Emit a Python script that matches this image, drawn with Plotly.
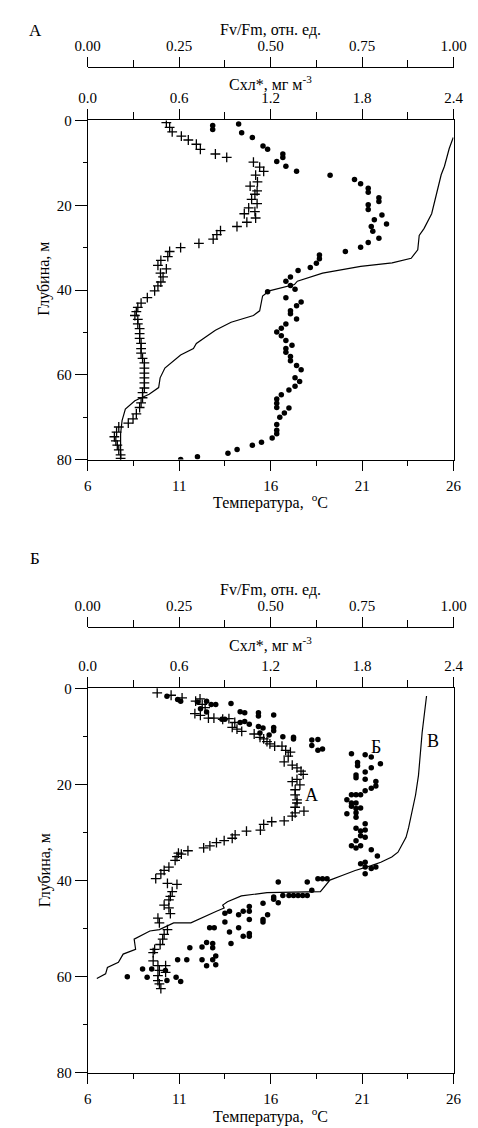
import plotly.graph_objects as go

# ---------------- Panel A data ----------------
# crosses: Fv/Fm (rel. units) vs depth (m)
depth_fv_A = [0.5, 1.6, 2.7, 3.7, 4.6, 5.6, 6.8, 7.9, 8.7, 9.8, 11.0, 12.0, 12.9, 14.5, 15.5, 16.6, 17.4, 18.6, 19.6,
              20.6, 21.5, 22.0, 23.0, 24.0, 25.0, 26.0, 26.9, 28.0, 29.0, 30.0, 30.9, 32.1, 33.0, 34.2, 35.0, 36.0,
              36.9, 38.1, 39.0, 40.2, 41.8, 43.1, 44.1, 45.1, 46.0, 46.9, 48.0, 49.1, 50.3, 51.4, 52.6, 53.8, 54.9,
              56.1, 57.2, 58.4, 59.6, 60.7, 61.9, 63.1, 64.2, 65.4, 66.6, 67.7, 69.2, 70.4, 71.4, 72.3, 73.5, 74.6,
              75.6, 76.6, 77.7, 78.9, 79.7]
fvfm_A = [0.215, 0.224, 0.231, 0.256, 0.275, 0.297, 0.308, 0.349, 0.380, 0.453, 0.470, 0.481, 0.459, 0.464, 0.444,
          0.463, 0.457, 0.448, 0.463, 0.440, 0.457, 0.428, 0.459, 0.435, 0.408, 0.363, 0.353, 0.343, 0.304, 0.254,
          0.224, 0.219, 0.200, 0.192, 0.215, 0.199, 0.206, 0.200, 0.192, 0.183, 0.163, 0.146, 0.137, 0.133, 0.129,
          0.137, 0.137, 0.142, 0.142, 0.142, 0.146, 0.146, 0.146, 0.150, 0.155, 0.155, 0.155, 0.155, 0.155, 0.155,
          0.150, 0.150, 0.146, 0.142, 0.133, 0.124, 0.111, 0.085, 0.079, 0.073, 0.077, 0.081, 0.085, 0.090, 0.090]

# dots: chlorophyll (mg m-3) vs depth (m)
depth_chl_A = [1.2, 2.1, 0.8, 2.9, 4.0, 6.0, 6.8, 7.9, 8.7, 9.7, 10.8, 12.0, 12.9, 13.9, 14.9, 16.0, 16.9, 18.2, 19.1,
               19.9, 21.0, 22.3, 23.4, 24.4, 25.0, 26.1, 27.8, 28.8, 29.9, 30.9, 31.7, 32.6, 33.7, 34.7, 35.4, 36.9,
               37.9, 38.9, 39.8, 40.4, 41.8, 42.8, 43.7, 44.9, 45.6, 46.8, 48.0, 49.0, 49.9, 50.8, 51.9, 53.0, 53.8,
               54.7, 55.7, 56.7, 57.8, 58.8, 60.7, 61.6, 62.7, 63.6, 64.7, 65.7, 66.7, 67.7, 67.8, 69.0, 70.0, 71.7,
               73.1, 73.9, 74.9, 75.9, 76.6, 77.6, 78.5, 79.3, 80.0]
chl_A = [0.82, 0.82, 0.99, 1.01, 1.08, 1.15, 1.18, 1.28, 1.28, 1.24, 1.30, 1.37, 1.59, 1.75, 1.79, 1.84, 1.84, 1.91,
         1.91, 1.84, 1.84, 1.93, 1.88, 1.96, 1.86, 1.87, 1.91, 1.84, 1.79, 1.69, 1.52, 1.52, 1.50, 1.46, 1.38, 1.33,
         1.30, 1.33, 1.36, 1.18, 1.30, 1.40, 1.37, 1.33, 1.33, 1.37, 1.30, 1.27, 1.24, 1.27, 1.30, 1.34, 1.30, 1.30,
         1.33, 1.33, 1.37, 1.40, 1.36, 1.39, 1.36, 1.32, 1.27, 1.24, 1.24, 1.24, 1.32, 1.29, 1.26, 1.24, 1.24, 1.24,
         1.21, 1.14, 1.08, 0.98, 0.92, 0.72, 0.61]

# line: temperature (°C) vs depth (m)
depth_t_A = [4.0, 6.6, 10.8, 12.8, 17.4, 22.0, 25.5, 27.1, 30.5, 32.5, 33.6, 34.4, 36.0, 37.9, 38.7, 40.2, 41.4, 44.9,
             46.0, 47.6, 49.5, 52.6, 53.8, 55.3, 58.4, 60.7, 63.0, 64.6, 66.1, 68.1, 70.8, 73.9, 80.0]
temp_A = [25.98, 25.76, 25.5, 25.32, 25.06, 24.8, 24.38, 24.12, 24.04, 23.68, 22.64, 20.92, 18.84, 17.46, 17.3, 15.92,
          15.56, 15.4, 15.06, 13.84, 12.98, 11.94, 11.78, 11.08, 10.22, 9.96, 9.88, 9.36, 8.58, 8.06, 7.88, 7.8, 7.8]

# ---------------- Panel Б data ----------------
depth_fv_B = [0.96, 1.44, 1.98, 2.67, 2.19, 3.35, 4.03, 5.27, 5.61, 6.22, 6.22, 6.43, 6.29, 7.11, 8.14, 8.48, 8.96,
              9.5, 10.19, 10.53, 11.08, 11.56, 12.03, 12.03, 12.9, 13.27, 14.09, 15.32, 16.0, 16.55, 17.23, 17.91,
              18.94, 19.42, 20.1, 21.1, 22.15, 23.2, 23.86, 24.75, 25.57, 25.9, 26.6, 27.6, 27.76, 28.3, 29.5, 29.7,
              30.5, 31.2, 31.7, 32.1, 32.8, 33.2, 33.8, 34.3, 34.5, 35.0, 35.8, 37.2, 37.9, 38.6, 39.6, 40.6, 40.8,
              42.3, 43.3, 44.0, 45.1, 45.7, 46.9, 47.8, 48.8, 50.2, 51.2, 52.2, 53.3, 54.3, 55.0, 56.7, 57.7, 57.7,
              58.7, 59.1, 59.8, 60.8, 61.5, 62.5]
fvfm_B = [0.190, 0.228, 0.258, 0.295, 0.307, 0.313, 0.321, 0.293, 0.308, 0.330, 0.345, 0.369, 0.386, 0.402, 0.395,
          0.408, 0.421, 0.455, 0.471, 0.481, 0.490, 0.498, 0.511, 0.531, 0.541, 0.554, 0.548, 0.537, 0.559, 0.572,
          0.583, 0.589, 0.572, 0.559, 0.580, 0.567, 0.567, 0.572, 0.572, 0.567, 0.591, 0.567, 0.559, 0.537, 0.503,
          0.481, 0.472, 0.434, 0.403, 0.395, 0.373, 0.352, 0.334, 0.317, 0.274, 0.248, 0.256, 0.244, 0.239, 0.222,
          0.209, 0.200, 0.186, 0.218, 0.244, 0.231, 0.226, 0.222, 0.209, 0.222, 0.226, 0.192, 0.196, 0.218, 0.209,
          0.205, 0.198, 0.183, 0.179, 0.179, 0.192, 0.213, 0.196, 0.213, 0.192, 0.192, 0.196, 0.200]

depth_chl_B = [1.64, 2.32, 2.67, 2.87, 2.67, 3.35, 3.35, 4.24, 3.14, 4.92, 4.86, 5.07, 5.07, 5.74, 5.54, 6.43, 6.43,
               7.11, 6.9, 7.45, 7.93, 8.28, 8.14, 8.82, 9.3, 9.71, 10.05, 10.19, 10.53, 10.74, 11.9, 10.67, 12.9,
               12.6, 13.6, 13.8, 14.3, 15.45, 16.1, 15.7, 16.55, 17.4, 18.05, 18.6, 18.9, 19.4, 20.3, 20.8, 21.3,
               22.15, 22.15, 22.15, 23.2, 23.86, 24.55, 23.86, 24.9, 26.1, 25.0, 25.9, 26.8, 28.2, 29.1, 29.7, 29.5,
               30.7, 31.0, 31.7, 32.75, 33.2, 32.75, 33.6, 34.9, 36.2, 36.5, 37.2, 38.6, 37.2, 37.5, 40.3, 40.3, 39.6,
               39.6, 39.6, 42.0, 43.1, 43.1, 43.1, 43.1, 43.1, 43.1, 43.4, 43.9, 44.6, 44.7, 45.4, 46.4, 46.4, 47.1,
               46.4, 46.8, 48.6, 48.1, 48.1, 48.6, 47.1, 49.8, 49.8, 50.7, 49.8, 51.6, 51.0, 51.6, 53.1, 52.9, 53.1,
               54.0, 53.8, 54.0, 56.5, 56.5, 56.5, 57.7, 56.5, 55.7, 57.5, 58.4, 58.4, 60.0, 60.1, 58.7, 60.8, 60.1,
               61.0]
chl_B = [0.52, 0.59, 0.61, 0.72, 0.78, 0.81, 0.84, 0.74, 0.94, 0.78, 1.00, 1.03, 1.12, 1.12, 1.22, 0.88, 0.90, 1.00,
         1.03, 1.06, 1.12, 1.15, 1.22, 1.22, 1.13, 1.19, 1.28, 1.35, 1.35, 1.47, 1.47, 1.51, 1.51, 1.54, 1.73, 1.82,
         1.86, 1.77, 1.77, 1.92, 1.86, 1.82, 1.76, 1.76, 1.82, 1.89, 1.89, 1.86, 1.82, 1.73, 1.76, 1.79, 1.70, 1.73,
         1.73, 1.76, 1.79, 1.70, 1.76, 1.76, 1.76, 1.82, 1.76, 1.79, 1.82, 1.79, 1.82, 1.76, 1.73, 1.76, 1.79, 1.86,
         1.90, 1.82, 1.79, 1.82, 1.82, 1.89, 1.86, 1.25, 1.44, 1.51, 1.54, 1.57, 1.47, 1.28, 1.32, 1.35, 1.38, 1.41,
         1.44, 1.22, 1.22, 1.25, 1.15, 1.06, 1.06, 1.02, 0.99, 0.93, 0.90, 0.90, 1.06, 1.15, 1.15, 1.18, 0.80, 0.83,
         0.93, 0.99, 1.02, 1.06, 1.06, 0.94, 0.78, 0.82, 0.82, 0.75, 0.67, 0.59, 0.65, 0.75, 0.78, 0.82, 0.84, 0.84,
         0.36, 0.42, 0.26, 0.39, 0.51, 0.52, 0.58, 0.61]

depth_t_B = [1.6, 5.1, 9.2, 11.9, 18.1, 22.2, 25.6, 29.0, 31.0, 33.5, 34.1, 35.1, 36.2, 36.9, 37.9, 38.9, 39.9, 42.3,
             42.5, 43.2, 44.4, 45.1, 45.7, 46.4, 48.8, 48.8, 50.2, 50.5, 52.2, 54.3, 55.3, 57.0, 58.1, 59.4, 60.4]
temp_B = [24.52, 24.4, 24.28, 24.22, 24.08, 23.92, 23.74, 23.54, 23.4, 23.02, 22.96, 22.62, 22.02, 21.5, 20.62, 19.94,
          19.24, 18.72, 15.8, 14.4, 13.64, 13.38, 13.46, 13.04, 11.64, 10.7, 9.92, 9.4, 8.54, 8.62, 7.94, 7.68, 7.08,
          6.98, 6.5]

# axis ticks
temp_ticks = [6, 11, 16, 21, 26]
temp_minor = [8.5, 13.5, 18.5, 23.5]
chl_ticks = [0.0, 0.6, 1.2, 1.8, 2.4]
chl_text = ["0.0", "0.6", "1.2", "1.8", "2.4"]
chl_minor = [0.3, 0.9, 1.5, 2.1]
fv_ticks = [0.0, 0.25, 0.5, 0.75, 1.0]
fv_text = ["0.00", "0.25", "0.50", "0.75", "1.00"]
fv_minor = [0.125, 0.375, 0.625, 0.875]
depth_ticks = [0, 20, 40, 60, 80]
depth_minor = [10, 30, 50, 70]

# curve labels in panel Б (temperature-axis coordinates)
lab_text = ["А", "Б", "В"]
lab_temp = [18.25, 21.75, 24.9]
lab_depth = [22.2, 12.2, 10.9]

# ---------------- layout geometry (pixels) ----------------
W, H = 478, 1128
FONT = "Liberation Serif"
X0, X1 = 70.5, 457.5


def fx(p):
    return p / W


def fy(p):
    return 1 - p / H


panels = [
    dict(top=106, bot=450, fvline=52, fvtitle=14, chltitle=68, ttitle=492, ytitle=(25, 267),
         letter=("А", 15, 15)),
    dict(top=682, bot=1072, fvline=620, fvtitle=582, chltitle=637, ttitle=1115, ytitle=(25, 867),
         letter=("Б", 15, 550)),
]

fig = go.Figure()

tick_font = dict(family=FONT, size=15, color="black")
common = dict(showline=True, linecolor="black", linewidth=1, showgrid=False, zeroline=False,
              ticks="outside", tickcolor="black", tickwidth=1, tickfont=tick_font)

layout = dict(width=W, height=H, margin=dict(l=0, r=0, t=0, b=0), autosize=False,
              paper_bgcolor="white", plot_bgcolor="white", showlegend=False,
              font=dict(family=FONT, size=15, color="black"))
annotations = []

data_sets = [
    (depth_fv_A, fvfm_A, depth_chl_A, chl_A, depth_t_A, temp_A),
    (depth_fv_B, fvfm_B, depth_chl_B, chl_B, depth_t_B, temp_B),
]

for i, (p, ds) in enumerate(zip(panels, data_sets)):
    n = 3 * i
    xt, xc, xf = f"x{n + 1 if n else ''}", f"x{n + 2}", f"x{n + 3}"
    yk = f"y{i + 1 if i else ''}"
    xt_name = "xaxis" + (str(n + 1) if n else "")
    y_name = "yaxis" + (str(i + 1) if i else "")
    dom_x = [fx(X0), fx(X1)]
    dom_y = [fy(p["bot"]), fy(p["top"])]

    layout[xt_name] = dict(common, domain=dom_x, anchor=yk, range=[6, 26], side="bottom",
                           tickvals=temp_ticks, ticklen=10, ticklabelstandoff=2,
                           minor=dict(tickvals=temp_minor, ticklen=5, ticks="outside", tickcolor="black"))
    layout[f"xaxis{n + 2}"] = dict(common, overlaying=xt, anchor=yk, range=[0, 2.4], side="top",
                                   tickvals=chl_ticks, ticktext=chl_text, ticklen=10,
                                   minor=dict(tickvals=chl_minor, ticklen=7, ticks="outside", tickcolor="black"))
    layout[f"xaxis{n + 3}"] = dict(common, overlaying=xt, anchor="free", position=fy(p["fvline"]),
                                   range=[0, 1], side="top", tickvals=fv_ticks, ticktext=fv_text, ticklen=10,
                                   minor=dict(tickvals=fv_minor, ticklen=7, ticks="outside", tickcolor="black"))
    layout[y_name] = dict(common, domain=dom_y, anchor=xt, range=[80, 0], tickvals=depth_ticks, ticklen=12,
                          mirror=True,
                          minor=dict(tickvals=depth_minor, ticklen=4, ticks="outside", tickcolor="black"))

    dfv, fv, dchl, chl, dt, tt = ds
    fig.add_trace(go.Scatter(x=tt, y=dt, mode="lines", line=dict(color="black", width=1.2),
                             xaxis=xt, yaxis=yk))
    fig.add_trace(go.Scatter(x=fv, y=dfv, mode="markers", xaxis=xf, yaxis=yk,
                             marker=dict(symbol="cross-thin", size=7, line=dict(color="black", width=1.3))))
    fig.add_trace(go.Scatter(x=chl, y=dchl, mode="markers", xaxis=xc, yaxis=yk,
                             marker=dict(symbol="circle", size=5.5, color="black")))

    cx = fx((X0 + X1) / 2)
    txt = dict(family=FONT, size=16, color="black")
    annotations += [
        dict(text="Fv/Fm, отн. ед.", x=cx, y=fy(p["fvtitle"]), xref="paper", yref="paper",
             showarrow=False, xanchor="center", yanchor="middle", font=txt),
        dict(text="Схл*, мг м<sup>-3</sup>", x=cx, y=fy(p["chltitle"]), xref="paper", yref="paper",
             showarrow=False, xanchor="center", yanchor="middle", font=txt),
        dict(text="Температура,  <sup>o</sup>C", x=cx, y=fy(p["ttitle"]), xref="paper", yref="paper",
             showarrow=False, xanchor="center", yanchor="middle", font=txt),
        dict(text="Глубина, м", x=fx(p["ytitle"][0]), y=fy(p["ytitle"][1]), xref="paper", yref="paper",
             showarrow=False, xanchor="center", yanchor="middle", textangle=-90, font=txt),
        dict(text=p["letter"][0], x=fx(p["letter"][1]), y=fy(p["letter"][2]), xref="paper", yref="paper",
             showarrow=False, xanchor="center", yanchor="middle", font=dict(family=FONT, size=17, color="black")),
    ]

for t, xv, yv in zip(lab_text, lab_temp, lab_depth):
    annotations.append(dict(text=t, x=xv, y=yv, xref="x4", yref="y2", showarrow=False,
                            xanchor="center", yanchor="middle", font=dict(family=FONT, size=18, color="black")))

layout["annotations"] = annotations
fig.update_layout(**layout)
fig.write_html("out.html")
